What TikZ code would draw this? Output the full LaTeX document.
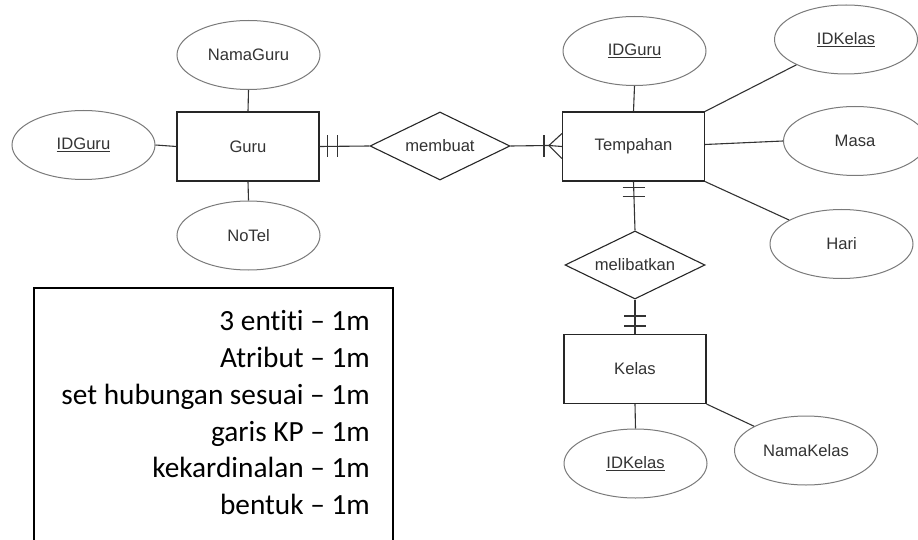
\documentclass[tikz,border=0pt]{standalone}
\usepackage{fontspec}
\setmainfont{Liberation Sans}
\newfontfamily\calib[Ligatures=NoCommon]{Carlito}
\usetikzlibrary{shapes.geometric,calc}
\definecolor{txt}{HTML}{333333}
\definecolor{edge}{HTML}{333333}
\definecolor{ell}{HTML}{7A7A7A}
\begin{document}
\begin{tikzpicture}[x=1pt,y=-1pt,
  every node/.style={font=\fontsize{16.6}{19}\selectfont, text=txt},
  attr/.style={ellipse, draw=ell, line width=1pt, minimum width=143pt, minimum height=69pt, inner sep=0pt},
  ent/.style={rectangle, draw=black!85, line width=1.1pt, minimum width=142pt, minimum height=69pt, inner sep=0pt},
  rel/.style={diamond, shape aspect=2.06, draw=black!85, line width=1.1pt, minimum width=140pt, minimum height=68pt, inner sep=0pt},
  conn/.style={draw=edge, line width=1.1pt},
  notes/.style={font=\calib\fontsize{29.3}{36.7}\selectfont, text=black, anchor=base east, inner sep=0pt}
]
\useasboundingbox (0,0) rectangle (918,540);
% entities
\node[ent] (guru) at (248,146.5) {Guru};
\node[ent] (temp) at (633.5,146.5) {Tempahan};
\node[ent] (kelas) at (635,369) {Kelas};
% relations
\node[rel] (membuat) at (440,146) {membuat};
\node[rel] (melib) at (635,265) {melibatkan};
% attributes
\node[attr] (namaguru) at (248.5,55) {NamaGuru};
\node[attr] (idguru1) at (83.5,145) {\underline{IDGuru}};
\node[attr] (notel) at (248.5,235.5) {NoTel};
\node[attr] (idguru2) at (634.5,51) {\underline{IDGuru}};
\node[attr] (idkelas1) at (846,39.5) {\underline{IDKelas}};
\node[attr] (masa) at (855,141) {Masa};
\node[attr] (hari) at (841.5,244) {Hari};
\node[attr] (idkelas2) at (635.5,463.5) {\underline{IDKelas}};
\node[attr] (namakelas) at (806,450.5) {NamaKelas};
% attribute links
\draw[conn] (guru.north) -- (namaguru.south);
\draw[conn] (guru.west) -- (idguru1.east);
\draw[conn] (guru.south) -- (notel.north);
\draw[conn] (temp.north) -- (idguru2.south);
\draw[conn] (temp.north east) -- (idkelas1);
\draw[conn] ($(temp.east)+(0,-2)$) -- (masa.west);
\draw[conn] (temp.south east) -- (hari);
\draw[conn] (kelas.south) -- (idkelas2.north);
\draw[conn] (kelas.south east) -- (namakelas);
% Guru -- membuat (one and only one)
\draw[conn] (guru.east) -- (membuat.west);
\draw[conn] ($(guru.east)+(8,-11)$) -- ($(guru.east)+(8,11)$);
\draw[conn] ($(guru.east)+(18,-11)$) -- ($(guru.east)+(18,11)$);
% membuat -- Tempahan (one or many)
\draw[conn] (membuat.east) -- ($(temp.west)+(-13,-1)$);
\draw[conn] ($(temp.west)+(-13,-1)$) -- (temp.west);
\draw[conn] ($(temp.west)+(-18,-11)$) -- ($(temp.west)+(-18,11)$);
\draw[conn] ($(temp.west)+(-13,-1)$) -- ($(temp.west)+(0,-13)$);
\draw[conn] ($(temp.west)+(-13,-1)$) -- ($(temp.west)+(0,12)$);
% Tempahan -- melibatkan (one and only one)
\draw[conn] (temp.south) -- (melib.north);
\draw[conn] ($(temp.south)+(-11,6)$) -- ($(temp.south)+(11,6)$);
\draw[conn] ($(temp.south)+(-11,15)$) -- ($(temp.south)+(11,15)$);
% melibatkan -- Kelas (one and only one)
\draw[conn] (melib.south) -- (kelas.north);
\draw[conn] ($(kelas.north)+(-11,-18)$) -- ($(kelas.north)+(11,-18)$);
\draw[conn] ($(kelas.north)+(-11,-8)$) -- ($(kelas.north)+(11,-8)$);
% marking box
\draw[line width=2pt, black] (34,542) -- (34,288) -- (393,288) -- (393,542);
\node[notes] (n1) at (370,330) {3 entiti – 1m};
\node[notes] (n2) at (370,367) {Atribut – 1m};
\node[notes] (n3) at (370,404) {set hubungan sesuai – 1m};
\node[notes] (n4) at (370,441) {garis KP – 1m};
\node[notes] (n5) at (370,477) {kekardinalan – 1m};
\node[notes] (n6) at (370,514) {bentuk – 1m};
\end{tikzpicture}
\end{document}
